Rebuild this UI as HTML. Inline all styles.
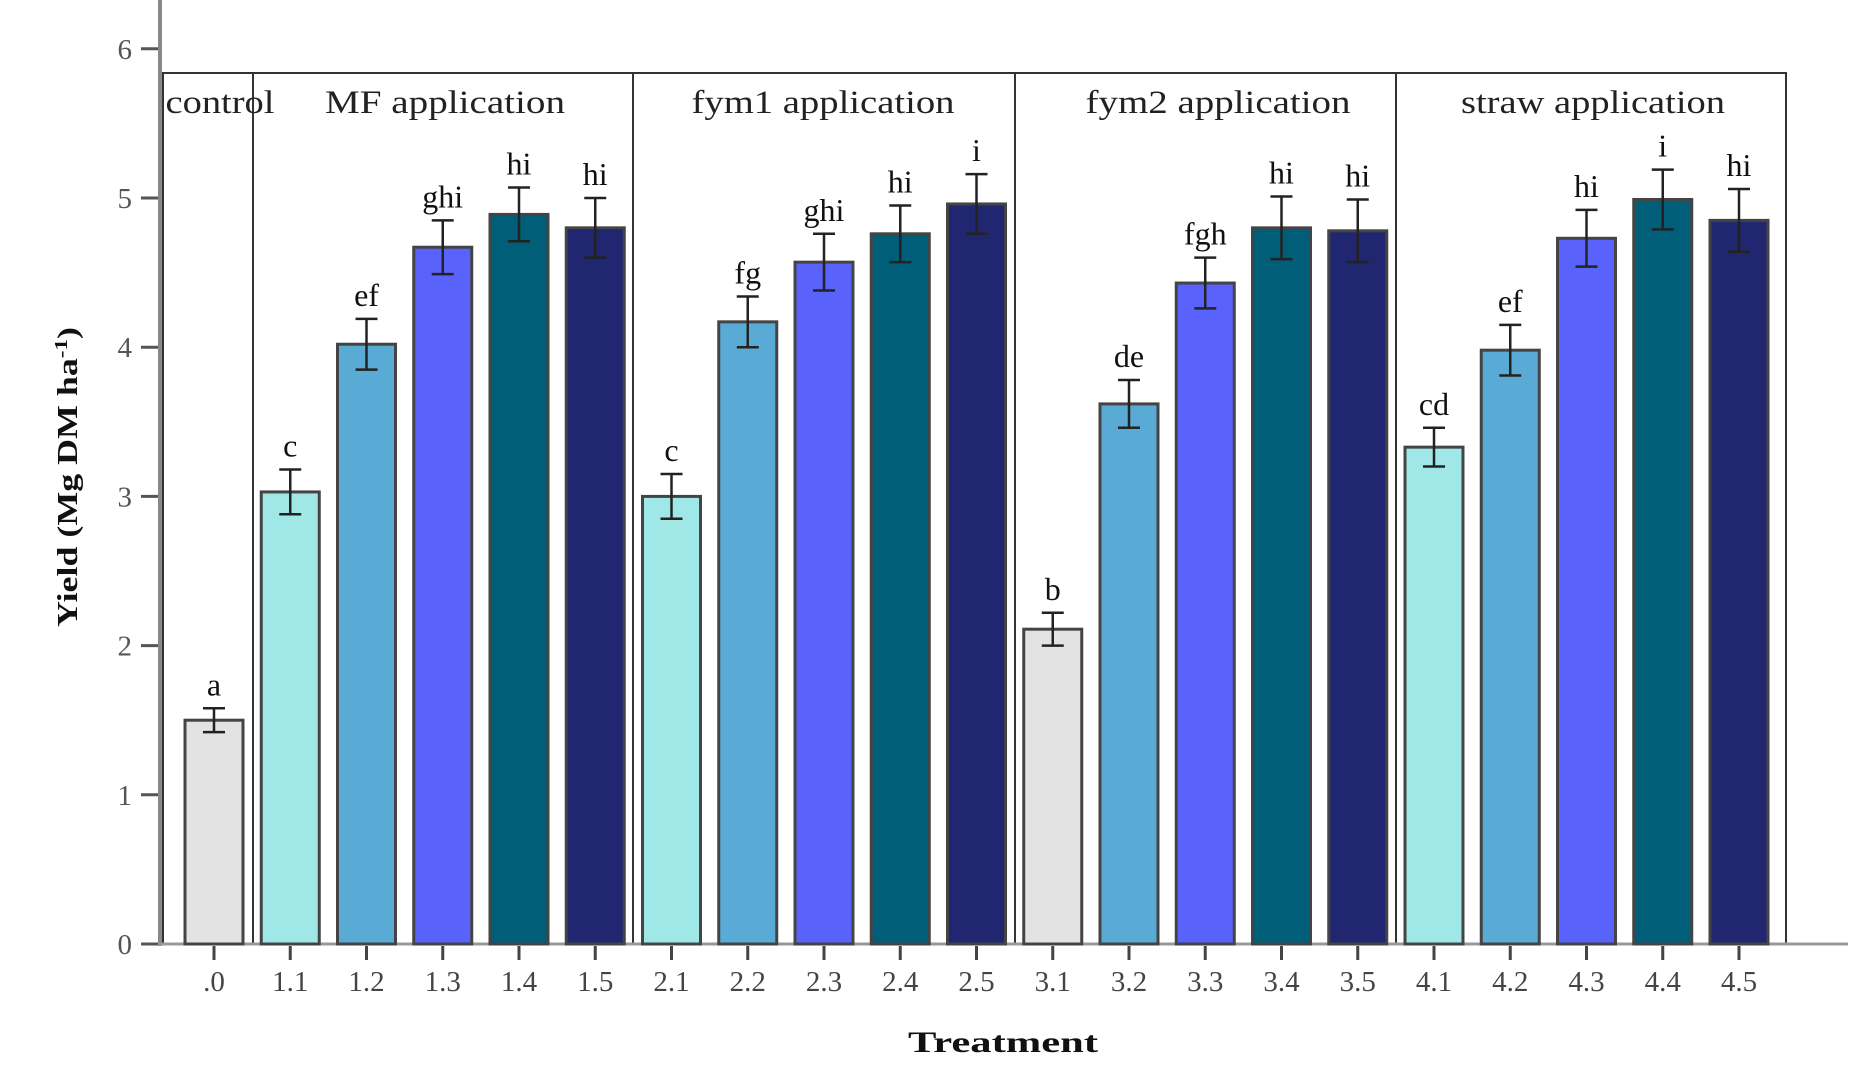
<!DOCTYPE html>
<html><head><meta charset="utf-8"><style>
html,body{margin:0;padding:0;background:#fff;}
svg{display:block;}
</style></head><body>
<svg id="c" width="1866" height="1070" viewBox="0 0 1866 1070" xmlns="http://www.w3.org/2000/svg">
<rect width="1866" height="1070" fill="#fff"/>
<g id="g"></g>
</svg>
<script>
var g=document.getElementById('g');var ns='http://www.w3.org/2000/svg';
function el(t,a,txt){var e=document.createElementNS(ns,t);for(var k in a)e.setAttribute(k,a[k]);if(txt!==undefined)e.textContent=txt;g.appendChild(e);return e;}
var y0=944,u=149.2;function Y(v){return y0-v*u;}
function X(i){return 214+i*76.25;}
el('rect',{x:163,y:73,width:1623,height:871,fill:'none',stroke:'#333','stroke-width':2});
[253,633,1015,1396].forEach(function(x){el('line',{x1:x,y1:73,x2:x,y2:944,stroke:'#333','stroke-width':2});});
el('line',{x1:160,y1:0,x2:160,y2:946,stroke:'#888','stroke-width':4});
el('line',{x1:158,y1:944,x2:1848,y2:944,stroke:'#999','stroke-width':3});
for(var t=0;t<=6;t++){el('line',{x1:141,y1:Y(t),x2:158,y2:Y(t),stroke:'#555','stroke-width':3});
el('text',{x:132,y:Y(t)+10,'text-anchor':'end','font-family':'Liberation Serif, serif','font-size':29,fill:'#555'},String(t));}
var data=[[1.5,.08,'a'],[3.03,.15,'c'],[4.02,.17,'ef'],[4.67,.18,'ghi'],[4.89,.18,'hi'],[4.8,.2,'hi'],
[3.0,.15,'c'],[4.17,.17,'fg'],[4.57,.19,'ghi'],[4.76,.19,'hi'],[4.96,.2,'i'],
[2.11,.11,'b'],[3.62,.16,'de'],[4.43,.17,'fgh'],[4.8,.21,'hi'],[4.78,.21,'hi'],
[3.33,.13,'cd'],[3.98,.17,'ef'],[4.73,.19,'hi'],[4.99,.2,'i'],[4.85,.21,'hi']];
var cols=['#e3e3e3','#a0e8e8','#5aaad6','#5a62fc','#005e78','#212670'];
var xl=['.0','1.1','1.2','1.3','1.4','1.5','2.1','2.2','2.3','2.4','2.5','3.1','3.2','3.3','3.4','3.5','4.1','4.2','4.3','4.4','4.5'];
data.forEach(function(d,i){var x=X(i);var c=i==0?cols[0]:(i==11?cols[0]:cols[((i-1)%5)+1]);
el('rect',{x:x-29,y:Y(d[0]),width:58,height:y0-Y(d[0]),fill:c,stroke:'#444','stroke-width':3});
var t1=Y(d[0]+d[1]),t2=Y(d[0]-d[1]);
el('line',{x1:x,y1:t1,x2:x,y2:t2,stroke:'#222','stroke-width':2.5});
el('line',{x1:x-11,y1:t1,x2:x+11,y2:t1,stroke:'#222','stroke-width':2.5});
el('line',{x1:x-11,y1:t2,x2:x+11,y2:t2,stroke:'#222','stroke-width':2.5});
el('text',{x:x,y:t1-13,'text-anchor':'middle','font-family':'Liberation Serif, serif','font-size':32,fill:'#111'},d[2]);
el('line',{x1:x,y1:946,x2:x,y2:960,stroke:'#444','stroke-width':3});
el('text',{x:x,y:991,'text-anchor':'middle','font-family':'Liberation Serif, serif','font-size':29,fill:'#444'},xl[i]);
});
var gt=[['control',220,109],['MF application',445,240],['fym1 application',823,263],['fym2 application',1218,265],['straw application',1593,264]];
gt.forEach(function(a){el('text',{x:a[1],y:113,'text-anchor':'middle','font-family':'Liberation Serif, serif','font-size':33,fill:'#222',textLength:a[2],lengthAdjust:'spacingAndGlyphs'},a[0]);});
var yt=el('text',{x:0,y:0,'text-anchor':'middle','font-family':'Liberation Serif, serif','font-size':28,'font-weight':'bold',fill:'#111',transform:'translate(77,477) rotate(-90)',textLength:300,lengthAdjust:'spacingAndGlyphs'});
yt.innerHTML='Yield (Mg DM ha<tspan dy="-10" font-size="18">-1</tspan><tspan dy="10">)</tspan>';
el('text',{x:1003,y:1052,'text-anchor':'middle','font-family':'Liberation Serif, serif','font-size':30,'font-weight':'bold',fill:'#111',textLength:190,lengthAdjust:'spacingAndGlyphs'},'Treatment');
</script>
</body></html>
